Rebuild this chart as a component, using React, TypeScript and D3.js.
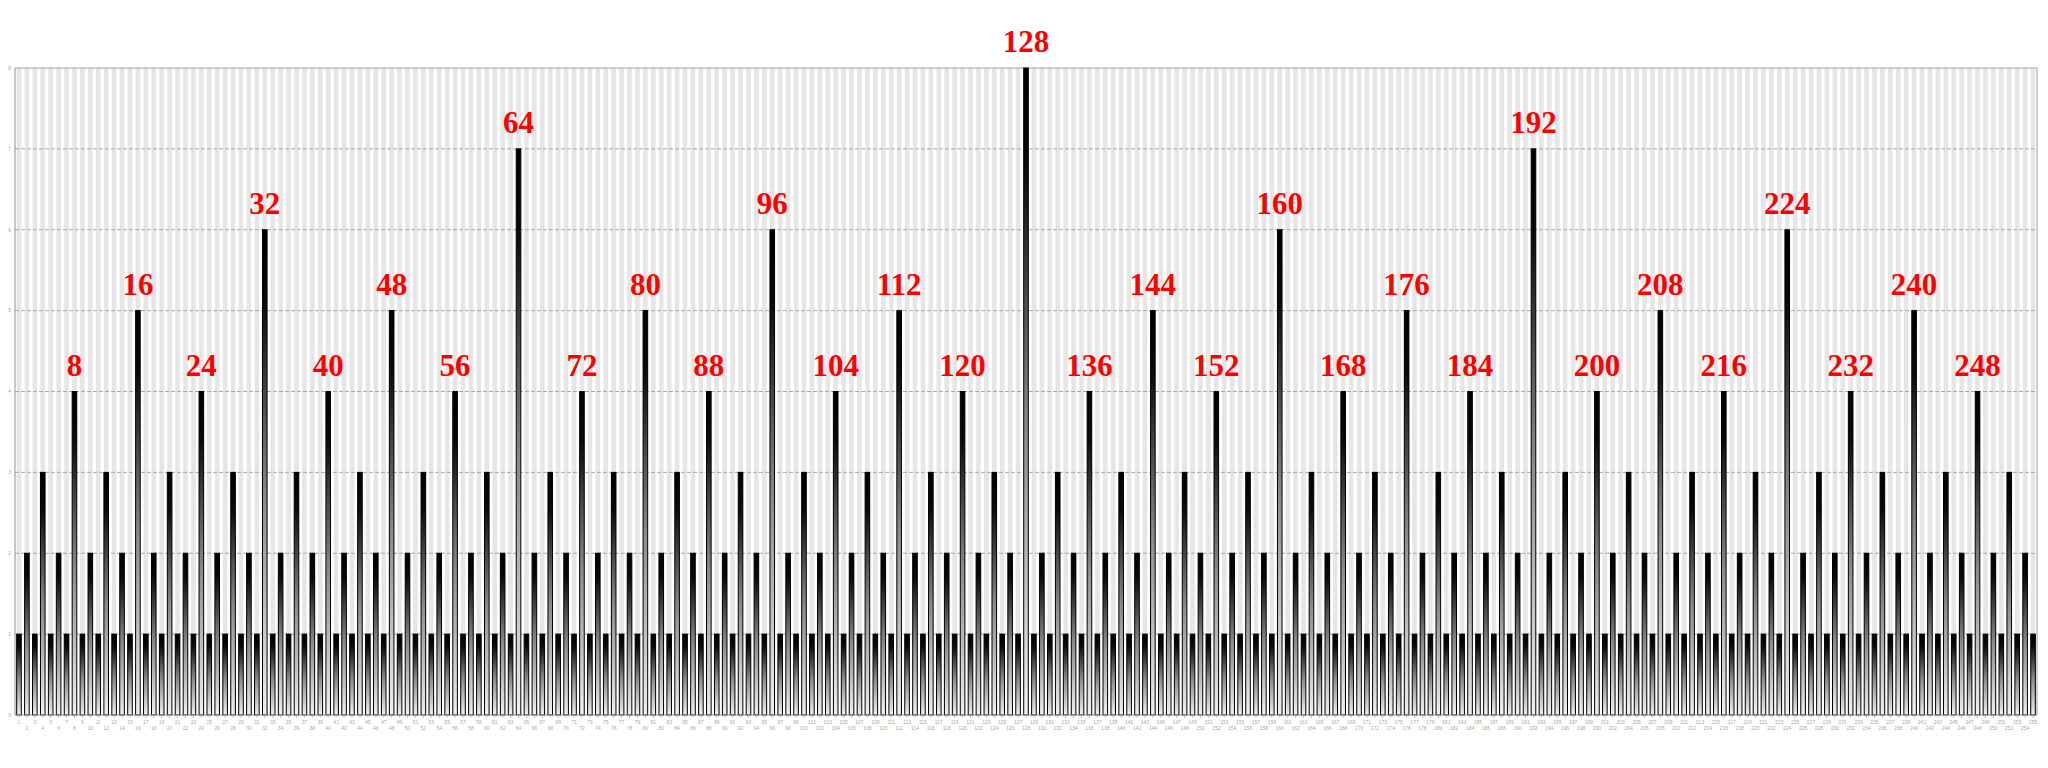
import React from "react";
import * as d3 from "d3";

// Height of each bar for n = 1..255
const values: number[] = [
  1,2,1,3,1,2,1,4,1,2,1,3,1,2,1,5,
  1,2,1,3,1,2,1,4,1,2,1,3,1,2,1,6,
  1,2,1,3,1,2,1,4,1,2,1,3,1,2,1,5,
  1,2,1,3,1,2,1,4,1,2,1,3,1,2,1,7,
  1,2,1,3,1,2,1,4,1,2,1,3,1,2,1,5,
  1,2,1,3,1,2,1,4,1,2,1,3,1,2,1,6,
  1,2,1,3,1,2,1,4,1,2,1,3,1,2,1,5,
  1,2,1,3,1,2,1,4,1,2,1,3,1,2,1,8,
  1,2,1,3,1,2,1,4,1,2,1,3,1,2,1,5,
  1,2,1,3,1,2,1,4,1,2,1,3,1,2,1,6,
  1,2,1,3,1,2,1,4,1,2,1,3,1,2,1,5,
  1,2,1,3,1,2,1,4,1,2,1,3,1,2,1,7,
  1,2,1,3,1,2,1,4,1,2,1,3,1,2,1,5,
  1,2,1,3,1,2,1,4,1,2,1,3,1,2,1,6,
  1,2,1,3,1,2,1,4,1,2,1,3,1,2,1,5,
  1,2,1,3,1,2,1,4,1,2,1,3,1,2,1,
];
const categories: number[] = values.map((_, i) => i + 1);
const labeled: number[] = [
  8, 16, 24, 32, 40, 48, 56, 64, 72, 80, 88, 96, 104, 112, 120, 128,
  136, 144, 152, 160, 168, 176, 184, 192, 200, 208, 216, 224, 232, 240, 248,
];
const yTicks: number[] = [0, 1, 2, 3, 4, 5, 6, 7, 8];

export default function App() {
  const W = 2048, H = 768;
  const left = 15, right = 2037, top = 68, bottom = 715;
  const x = d3
    .scaleBand<number>()
    .domain(categories)
    .range([left, right])
    .paddingInner(0.42)
    .paddingOuter(0.21);
  const y = d3.scaleLinear().domain([0, 8]).range([bottom, top]);
  const bw = x.bandwidth();
  return (
    <svg
      width={W}
      height={H}
      style={{ position: "absolute", left: 0, top: 0, background: "#fff" }}
    >
      <defs>
        <linearGradient id="barGrad" x1="0" y1="0" x2="0" y2="1">
          <stop offset="0" stopColor="#000" />
          <stop offset="0.15" stopColor="#0a0a0a" />
          <stop offset="0.55" stopColor="#8a8a8a" />
          <stop offset="1" stopColor="#f0f0f0" />
        </linearGradient>
      </defs>
      {/* background stripes */}
      {categories.map((c) => (
        <rect
          key={"bg" + c}
          x={x(c)}
          y={y(8)}
          width={bw}
          height={y(0) - y(8)}
          fill="#e6e6e6"
        />
      ))}
      {/* gridlines */}
      {yTicks.slice(1, 8).map((t) => (
        <line
          key={"g" + t}
          x1={left}
          x2={right}
          y1={y(t)}
          y2={y(t)}
          stroke="#a8a8a8"
          strokeWidth={1}
          strokeDasharray="4,2"
        />
      ))}
      <line x1={left} x2={right} y1={y(8)} y2={y(8)} stroke="#a0a0a0" strokeWidth={1} />
      <line x1={right} x2={right} y1={y(8)} y2={y(0)} stroke="#a0a0a0" strokeWidth={1} />
      <line x1={left} x2={left} y1={y(8)} y2={y(0)} stroke="#909090" strokeWidth={1} />
      {/* y tick labels */}
      {yTicks.map((t) => (
        <text
          key={"yl" + t}
          x={left - 4}
          y={y(t)}
          dy="0.35em"
          textAnchor="end"
          fontSize={5}
          fill="#aaa"
          fontFamily="Liberation Sans, Arial, sans-serif"
        >
          {t}
        </text>
      ))}
      {/* bars */}
      {categories.map((c, i) => (
        <rect
          key={"b" + c}
          x={x(c)}
          y={y(values[i])}
          width={bw}
          height={y(0) - y(values[i])}
          fill="url(#barGrad)"
          stroke="#000"
          strokeWidth={1}
        />
      ))}
      <line x1={left} x2={right} y1={y(0)} y2={y(0)} stroke="#909090" strokeWidth={1} />
      {/* x tick marks and labels */}
      {categories.map((c, i) => (
        <g key={"xt" + c}>
          <line
            x1={(x(c) as number) + bw / 2}
            x2={(x(c) as number) + bw / 2}
            y1={y(0)}
            y2={y(0) + 3}
            stroke="#bbb"
          />
          <text
            x={(x(c) as number) + bw / 2}
            y={y(0) + (i % 2 === 0 ? 9 : 15)}
            textAnchor="middle"
            fontSize={5}
            fill="#aaa"
            fontFamily="Liberation Sans, Arial, sans-serif"
          >
            {c}
          </text>
        </g>
      ))}
      {/* labels */}
      {labeled.map((n) => (
        <text
          key={"l" + n}
          x={(x(n) as number) + bw / 2}
          y={y(values[n - 1]) - 16}
          textAnchor="middle"
          fontSize={31}
          fontWeight="bold"
          fill="#ff0000"
          fontFamily="'Liberation Serif', 'Times New Roman', serif"
        >
          {n}
        </text>
      ))}
    </svg>
  );
}
